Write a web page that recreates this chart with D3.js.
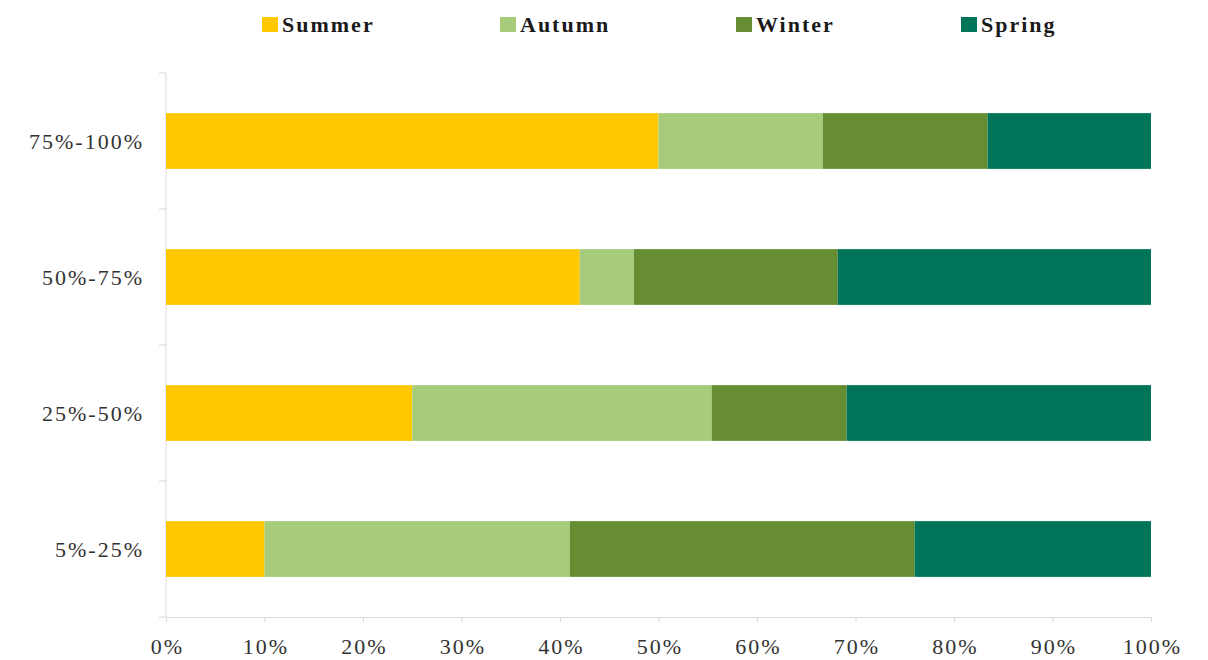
<!DOCTYPE html>
<html>
<head>
<meta charset="utf-8">
<title>Seasons stacked bar</title>
<style>
  body { margin: 0; background: #fff; }
  text { font-family: "Liberation Serif", "DejaVu Serif", serif; }
</style>
</head>
<body>
<script src="https://d3js.org/d3.v7.min.js"></script>
<script>
// data
var categories = ["75%-100%", "50%-75%", "25%-50%", "5%-25%"];
var seasons = ["Summer", "Autumn", "Winter", "Spring"];
var summer = [50, 42, 25, 10];
var autumn = [16.7, 5.5, 30.4, 31];
var winter = [16.7, 20.7, 13.7, 35];
var spring = [16.6, 31.8, 30.9, 24];
var xTicks = [0, 10, 20, 30, 40, 50, 60, 70, 80, 90, 100];

var colors = ["#FFC800", "#A5CB7B", "#678D32", "#00755A"];

var rows = categories.map(function (c, i) {
  return { cat: c, Summer: summer[i], Autumn: autumn[i], Winter: winter[i], Spring: spring[i] };
});

var W = 1208, H = 660;
var svg = d3.select("body").append("svg").attr("width", W).attr("height", H);

var x = d3.scaleLinear().domain([0, 100]).range([166, 1151]);
var y = d3.scaleBand().domain(categories).range([73, 617]).paddingInner(0.59).paddingOuter(0.295);
var color = d3.scaleOrdinal().domain(seasons).range(colors);

var stack = d3.stack().keys(seasons)(rows);

// y axis: line, ticks at band edges, labels
var yAx = svg.append("g").attr("transform", "translate(166,0)");
yAx.append("line").attr("y1", 73).attr("y2", 617).attr("stroke", "#d9d9d9");
var edges = categories.map(function (c) { return y(c) - y.step() * y.paddingInner() / 2; });
edges.push(617);
yAx.selectAll("line.tk").data(edges).enter().append("line")
  .attr("x1", -7).attr("x2", 0).attr("y1", function (d) { return d; }).attr("y2", function (d) { return d; })
  .attr("stroke", "#d9d9d9");
yAx.selectAll("text").data(categories).enter().append("text")
  .attr("x", -22).attr("y", function (d) { return y(d) + y.bandwidth() / 2; })
  .attr("dy", "0.35em").attr("text-anchor", "end")
  .style("font-size", "22px").style("letter-spacing", "2px").attr("fill", "#333")
  .text(function (d) { return d; });

// x axis
var xAxis = d3.axisBottom(x).tickValues(xTicks).tickSize(5).tickFormat(function (d) { return d + "%"; });
var gx = svg.append("g").attr("transform", "translate(0,617)").call(xAxis);
gx.select(".domain").attr("stroke", "#d9d9d9");
gx.selectAll(".tick line").attr("stroke", "#d9d9d9");
gx.selectAll(".tick text").attr("y", 21).attr("dx", "1px")
  .style("font-size", "22px").style("letter-spacing", "2px")
  .style("font-family", "Liberation Serif, serif").attr("fill", "#333");

// bars
svg.append("g").selectAll("g").data(stack).enter().append("g")
  .attr("fill", function (d) { return color(d.key); })
  .selectAll("rect").data(function (d) { return d; }).enter().append("rect")
  .attr("x", function (d) { return x(d[0]); })
  .attr("width", function (d) { return x(d[1]) - x(d[0]); })
  .attr("y", function (d) { return y(d.data.cat); })
  .attr("height", y.bandwidth());

// legend
var legX = [262, 500, 736, 961];
var leg = svg.append("g").selectAll("g").data(seasons).enter().append("g")
  .attr("transform", function (d, i) { return "translate(" + legX[i] + ",17)"; });
leg.append("rect").attr("width", 16).attr("height", 15).attr("fill", function (d) { return color(d); });
leg.append("text").attr("x", 20).attr("y", 15).style("font-size", "22px").style("font-weight", "bold")
  .style("letter-spacing", "2px").attr("fill", "#1a1a1a").text(function (d) { return d; });
</script>
</body>
</html>
